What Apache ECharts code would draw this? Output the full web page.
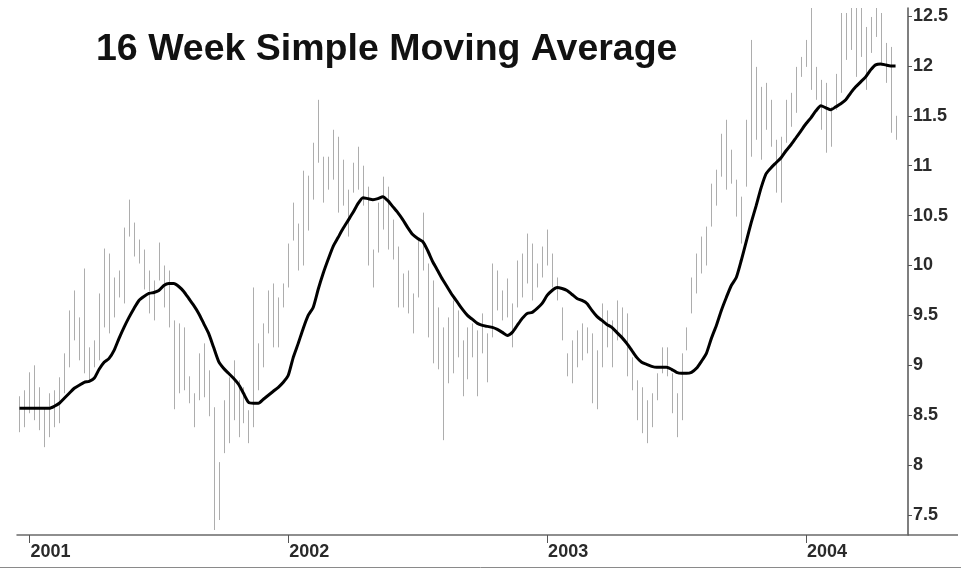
<!DOCTYPE html>
<html>
<head>
<meta charset="utf-8">
<title>16 Week Simple Moving Average</title>
<script src="https://cdn.jsdelivr.net/npm/echarts@6/dist/echarts.min.js"></script>
<style>
  html, body { margin: 0; padding: 0; background: #fff; }
  #chart { width: 961px; height: 569px; }
</style>
</head>
<body>
<div id="chart"></div>
<script>
// weekly bars, first one two weeks before 2001; two empty weeks at the right edge
const firstWeek = '2000-12-22'
const weekCount = 179

const weekHigh = [
  8.69, 8.75, 8.93, 9.00, 8.78, 8.58, 8.72, 8.75, 8.88, 9.12,
  9.55, 9.75, 9.48, 9.97, 9.18, 9.25, 9.72, 10.17, 10.12, 9.88,
  9.95, 10.38, 10.66, 10.43, 10.26, 10.16, 9.95, 9.85, 10.23, 10.00,
  9.95, 9.45, 9.42, 9.38, 8.89, 8.72, 9.12, 9.22, 8.95, 8.58,
  8.03, 8.65, 8.88, 9.05, 8.85, 8.78, 8.55, 9.78, 9.22, 9.42,
  9.75, 9.82, 9.68, 9.82, 10.22, 10.63, 10.42, 10.95, 10.90, 11.23,
  11.66, 11.09, 11.09, 11.36, 11.29, 11.06, 10.76, 11.03, 11.19, 11.00,
  10.79, 10.16, 10.63, 10.89, 10.79, 10.46, 10.19, 9.92, 9.95, 9.72,
  10.26, 10.53, 10.02, 9.85, 9.58, 9.38, 9.48, 9.65, 9.55, 9.25,
  9.38, 9.42, 9.35, 9.52, 9.32, 10.02, 9.95, 9.75, 9.87, 9.62,
  10.05, 10.12, 10.32, 10.22, 10.02, 10.19, 10.36, 10.12, 9.88, 9.58,
  9.12, 9.25, 9.35, 9.42, 9.38, 9.32, 9.15, 9.62, 9.55, 9.45,
  9.65, 9.58, 9.52, 9.08, 8.85, 8.78, 8.65, 8.72, 8.92, 9.18,
  9.18, 8.92, 8.72, 9.12, 9.38, 9.88, 10.12, 10.29, 10.39, 10.82,
  10.96, 11.32, 11.46, 11.16, 10.86, 10.69, 11.46, 12.26, 11.99, 11.79,
  11.83, 11.66, 11.26, 11.29, 11.66, 11.73, 11.99, 12.09, 12.26, 12.65,
  11.99, 11.86, 11.83, 11.59, 11.92, 12.53, 12.53, 12.65, 12.65, 12.65,
  12.39, 12.49, 12.65, 12.53, 12.23, 12.19, 11.50
]

const weekLow = [
  8.33, 8.38, 8.52, 8.45, 8.35, 8.18, 8.28, 8.38, 8.42, 8.72,
  8.98, 9.25, 9.05, 8.92, 8.85, 8.98, 9.05, 9.38, 9.32, 9.48,
  9.68, 9.62, 10.29, 10.09, 10.02, 9.76, 9.52, 9.45, 9.85, 9.58,
  9.38, 8.56, 8.72, 8.75, 8.62, 8.38, 8.65, 8.68, 8.49, 7.35,
  7.45, 8.12, 8.22, 8.45, 8.28, 8.42, 8.22, 8.38, 8.75, 8.98,
  9.32, 9.18, 9.18, 9.58, 9.78, 10.25, 9.95, 10.00, 10.35, 10.66,
  11.03, 10.63, 10.76, 10.86, 10.53, 10.60, 10.29, 10.73, 10.76, 10.60,
  10.00, 9.78, 10.13, 10.36, 10.16, 10.06, 9.58, 9.58, 9.52, 9.32,
  9.68, 9.95, 9.28, 9.02, 8.96, 8.25, 8.82, 8.92, 9.08, 8.69,
  8.86, 9.08, 8.69, 9.12, 8.83, 9.28, 9.55, 9.45, 9.48, 9.18,
  9.58, 9.68, 9.82, 9.65, 9.78, 9.88, 10.00, 9.78, 9.65, 9.25,
  8.89, 8.82, 8.98, 9.05, 9.12, 8.62, 8.56, 8.98, 9.18, 8.98,
  9.25, 9.25, 8.89, 8.75, 8.45, 8.32, 8.22, 8.38, 8.65, 8.92,
  8.89, 8.52, 8.28, 8.45, 9.15, 9.52, 9.72, 9.92, 10.00, 10.39,
  10.60, 10.89, 10.76, 10.82, 10.49, 10.22, 10.79, 11.09, 11.26, 11.06,
  11.36, 11.19, 10.73, 10.63, 11.23, 11.39, 11.53, 11.89, 11.99, 11.76,
  11.66, 11.36, 11.13, 11.19, 11.56, 11.73, 12.06, 12.16, 11.89, 12.09,
  11.76, 12.13, 12.29, 12.03, 11.83, 11.33, 11.26
]

const sma16 = [
  8.57, 8.57, 8.57, 8.57, 8.57, 8.57, 8.57, 8.59, 8.62, 8.67,
  8.72, 8.77, 8.80, 8.83, 8.84, 8.87, 8.96, 9.03, 9.07, 9.15,
  9.27, 9.38, 9.48, 9.57, 9.65, 9.69, 9.72, 9.73, 9.75, 9.80,
  9.82, 9.82, 9.79, 9.74, 9.67, 9.60, 9.52, 9.42, 9.32, 9.18,
  9.04, 8.97, 8.92, 8.87, 8.81, 8.72, 8.63, 8.62, 8.62, 8.66,
  8.70, 8.74, 8.78, 8.83, 8.90, 9.08, 9.22, 9.37, 9.50, 9.58,
  9.76, 9.92, 10.06, 10.19, 10.28, 10.37, 10.45, 10.53, 10.62, 10.68,
  10.67, 10.66, 10.67, 10.69, 10.65, 10.59, 10.53, 10.46, 10.38, 10.31,
  10.27, 10.24, 10.15, 10.04, 9.95, 9.86, 9.78, 9.70, 9.63, 9.56,
  9.50, 9.46, 9.42, 9.40, 9.39, 9.38, 9.36, 9.33, 9.30, 9.33,
  9.40, 9.47, 9.52, 9.53, 9.57, 9.62, 9.70, 9.75, 9.78, 9.77,
  9.75, 9.71, 9.67, 9.65, 9.62, 9.55, 9.49, 9.45, 9.41, 9.38,
  9.33, 9.28, 9.22, 9.15, 9.08, 9.03, 9.01, 8.99, 8.98, 8.98,
  8.98, 8.96, 8.93, 8.92, 8.92, 8.93, 8.97, 9.04, 9.12, 9.27,
  9.40, 9.55, 9.68, 9.80, 9.88, 10.05, 10.24, 10.43, 10.60, 10.78,
  10.92, 10.98, 11.03, 11.08, 11.15, 11.21, 11.28, 11.35, 11.42, 11.48,
  11.55, 11.60, 11.58, 11.56, 11.59, 11.62, 11.66, 11.73, 11.79, 11.84,
  11.89, 11.96, 12.01, 12.02, 12.01, 12.00, 12.00
]

const yTicks = [7.5, 8, 8.5, 9, 9.5, 10, 10.5, 11, 11.5, 12, 12.5]

// category labels: one per week
const weeks = []
const start = new Date(firstWeek + 'T00:00:00Z')
for (let i = 0; i < weekCount; i++) {
  const d = new Date(start.getTime() + i * 7 * 86400000)
  weeks.push(d.toISOString().slice(0, 10))
}
// first week of each year gets the tick and the year label
function isYearStart (index, value) {
  return value.slice(5, 7) === '01' && Number(value.slice(8, 10)) <= 7
}

const barData = weekHigh.map((h, i) => [i, weekLow[i], h])

const font = '"Liberation Sans", Arial, sans-serif'
const chart = echarts.init(document.getElementById('chart'))

const option = {
  animation: false,
  backgroundColor: '#ffffff',
  title: {
    text: '16 Week Simple Moving Average',
    left: 96,
    top: 31,
    padding: 0,
    textStyle: { fontFamily: font, fontSize: 37.5, fontWeight: 'bold', color: '#111' }
  },
  grid: { left: 17, right: 53, top: 8, bottom: 34 },
  xAxis: {
    type: 'category',
    data: weeks,
    boundaryGap: true,
    axisLine: { lineStyle: { color: '#6a6a6a', width: 1.5 } },
    axisTick: { show: true, alignWithLabel: true, interval: isYearStart, length: 8, lineStyle: { color: '#555' } },
    axisLabel: {
      interval: isYearStart,
      formatter: (v) => v.slice(0, 4),
      align: 'left',
      margin: 8,
      padding: [0, 0, 0, 1],
      fontFamily: font,
      fontSize: 18,
      fontWeight: 'bold',
      color: '#2a2a2a'
    },
    splitLine: { show: false }
  },
  yAxis: {
    type: 'value',
    position: 'right',
    min: 7.3,
    max: 12.58,
    axisLine: { show: true, lineStyle: { color: '#555', width: 1.5 } },
    axisTick: { show: true, length: 4, customValues: yTicks, lineStyle: { color: '#555' } },
    axisLabel: {
      customValues: yTicks,
      margin: 5,
      fontFamily: font,
      fontSize: 18,
      fontWeight: 'bold',
      color: '#2a2a2a'
    },
    splitLine: { show: false }
  },
  series: [
    {
      name: 'weekly range',
      type: 'custom',
      clip: true,
      encode: { x: 0, y: [1, 2] },
      data: barData,
      renderItem: function (params, api) {
        const lo = api.coord([api.value(0), api.value(1)])
        const hi = api.coord([api.value(0), api.value(2)])
        const x = Math.round(lo[0]) + 0.5
        return {
          type: 'line',
          shape: { x1: x, y1: lo[1], x2: x, y2: hi[1] },
          style: { stroke: '#adadad', lineWidth: 1 }
        }
      },
      z: 1
    },
    {
      name: 'SMA 16',
      type: 'line',
      data: sma16,
      symbol: 'none',
      smooth: 0.2,
      lineStyle: { color: '#000', width: 3 },
      z: 3
    }
  ],
  graphic: [
    // axis baseline runs on past the price scale, and the frame line under the dates
    { type: 'line', shape: { x1: 908, y1: 535, x2: 958, y2: 535 }, style: { stroke: '#6a6a6a', lineWidth: 1.5 } },
    { type: 'line', shape: { x1: 0, y1: 567.5, x2: 961, y2: 567.5 }, style: { stroke: '#8a8a8a', lineWidth: 1 } }
  ]
}
chart.setOption(option)
</script>
</body>
</html>
